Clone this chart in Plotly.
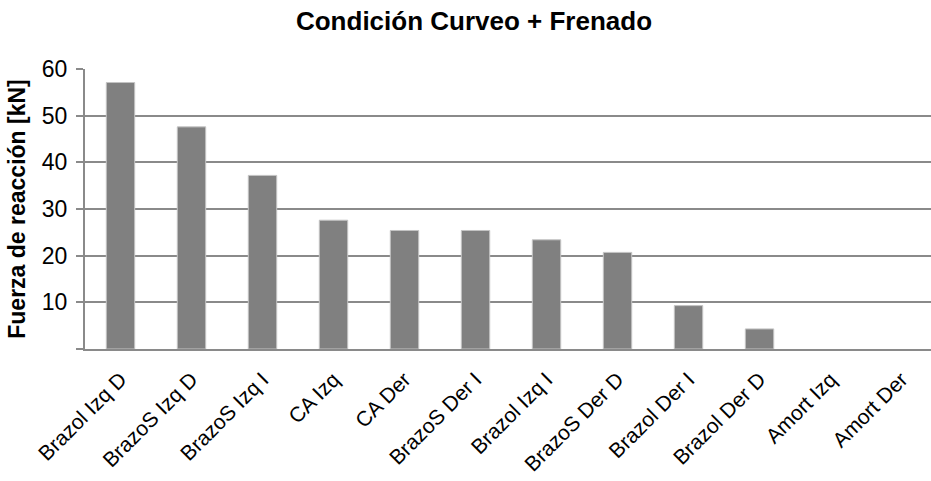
import plotly.graph_objects as go

categories = ["Brazol Izq D", "BrazoS Izq D", "BrazoS Izq I", "CA Izq", "CA Der",
              "BrazoS Der I", "Brazol Izq I", "BrazoS Der D", "Brazol Der I",
              "Brazol Der D", "Amort Izq", "Amort Der"]
fuerza_kN = [57.1, 47.6, 37.2, 27.6, 25.4, 25.4, 23.4, 20.7, 9.3, 4.3, 0, 0]
y_ticks = [0, 10, 20, 30, 40, 50, 60]
y_ticktext = ["", "10", "20", "30", "40", "50", "60"]

FONT = "Liberation Sans, Arial, sans-serif"

# light outline only on bars with a visible height
outline_w = [1 if v > 0 else 0 for v in fuerza_kN]

fig = go.Figure(go.Bar(
    x=list(range(len(categories))),
    y=fuerza_kN,
    marker=dict(color="#808080", line=dict(color="#c4c4c4", width=outline_w)),
))

fig.update_layout(
    width=931, height=481,
    margin=dict(l=85, r=0, t=69, b=132),
    paper_bgcolor="white", plot_bgcolor="white",
    bargap=0.6,
    showlegend=False,
    title=dict(text="<b>Condición Curveo + Frenado</b>", x=474 / 931, xanchor="center",
               xref="container", y=1 - 21 / 481, yanchor="middle",
               font=dict(family=FONT, size=26, color="black")),
    font=dict(family=FONT, color="black"),
)

fig.update_xaxes(
    tickmode="array", tickvals=list(range(len(categories))), ticktext=categories,
    tickangle=-45, tickfont=dict(size=21, color="black"),
    ticklabelstandoff=8,
    range=[-0.5, 11.415],
    showline=True, linecolor="#8a8a8a", linewidth=2,
    showgrid=False, ticks="", zeroline=False,
)

fig.update_yaxes(
    range=[0, 60], tickmode="array", tickvals=y_ticks, ticktext=y_ticktext,
    tickfont=dict(size=23, color="black"),
    ticks="outside", ticklen=7, tickcolor="#8a8a8a", tickwidth=2,
    ticklabelstandoff=4,
    showgrid=True, gridcolor="#8a8a8a", gridwidth=2,
    showline=True, linecolor="#8a8a8a", linewidth=2,
    zeroline=False,
    title=dict(text="<b>Fuerza de reacción [kN]</b>", font=dict(size=23, color="black"),
               standoff=10),
)

fig.write_html("out.html")
